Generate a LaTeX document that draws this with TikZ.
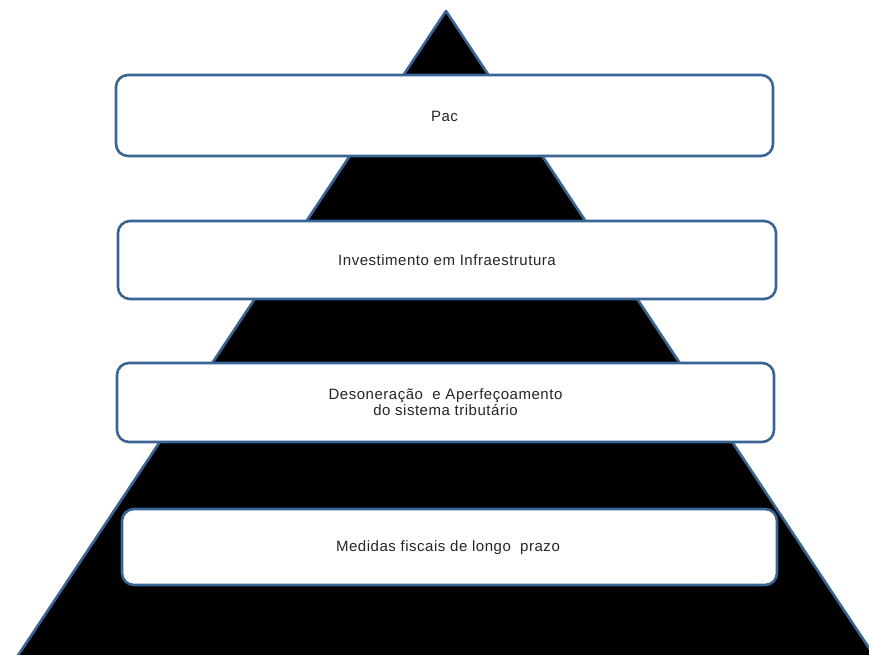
\documentclass[tikz,border=0pt]{standalone}
\usepackage{fontspec}
\setmainfont{Liberation Sans}[LetterSpace=3.5]
\definecolor{edgeblue}{HTML}{3A6494}
\begin{document}
\begin{tikzpicture}[x=1pt,y=-1pt,
  level/.style={draw=edgeblue, line width=2.6pt, fill=white, rounded corners=12pt},
  label/.style={font=\fontsize{15}{16}\selectfont, align=center, text=black!85}]
  \useasboundingbox (0,0) rectangle (869,654);
  \begin{scope}
    \clip (0,0) rectangle (869,654);
    % pyramid
    \draw[draw=edgeblue, line width=2.6pt, fill=black, line join=round]
      (446,11) -- (877,660) -- (15,660) -- cycle;
  \end{scope}
  % level boxes, top to bottom
  \draw[level] (116,75) rectangle (773,156);
  \draw[level] (118,221) rectangle (776,299);
  \draw[level] (117,363) rectangle (774,442);
  \draw[level] (122,509) rectangle (777,585);
  \node[label] (pac) at (444.5,116) {Pac};
  \node[label] (inf) at (447,260) {Investimento em Infraestrutura};
  \node[label] (des) at (445.5,402.5) {Desoneração\ \ e Aperfeçoamento\\do sistema tributário};
  \node[label] (med) at (448,548) {Medidas fiscais de longo\ \ prazo};
\end{tikzpicture}
\end{document}
